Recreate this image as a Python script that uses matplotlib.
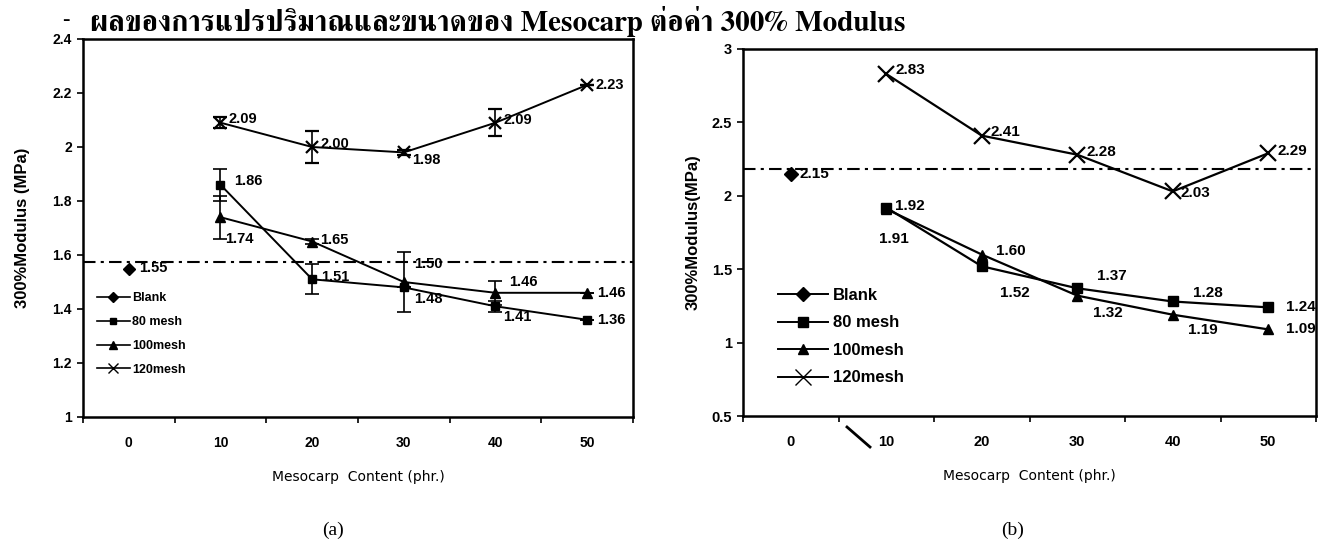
import matplotlib
matplotlib.use('Agg')
import matplotlib.pyplot as plt
from matplotlib import font_manager
from matplotlib.ft2font import FT2Font
from matplotlib.lines import Line2D

# ---- data -------------------------------------------------------------
content = [10, 20, 30, 40, 50]          # phr.
blank_x = [0]

# (a) 300% modulus with standard deviation
a_blank = [1.55]
a_blank_ref = 1.573                     # reference level drawn across the panel
a_80 = [1.86, 1.51, 1.48, 1.41, 1.36]
a_100 = [1.74, 1.65, 1.50, 1.46, 1.46]
a_120 = [2.09, 2.00, 1.98, 2.09, 2.23]
a_80_err = [0.06, 0.055, 0.0, 0.02, 0.0]
a_100_err = [0.08, 0.01, 0.11, 0.045, 0.0]
a_120_err = [0.02, 0.06, 0.01, 0.05, 0.0]

# (b) 300% modulus
b_blank = [2.15]
b_blank_ref = 2.18
b_80 = [1.92, 1.52, 1.37, 1.28, 1.24]
b_100 = [1.91, 1.60, 1.32, 1.19, 1.09]
b_120 = [2.83, 2.41, 2.28, 2.03, 2.29]

xtick_labels = ['0', '10', '20', '30', '40', '50']
legend_names = ['Blank', '80 mesh', '100mesh', '120mesh']


def thai_font():
    # pick an installed family that can draw Thai, serif ones first
    found = []
    for f in font_manager.fontManager.ttflist:
        try:
            if 0x0E1C in FT2Font(f.fname).get_charmap():
                found.append(f.name)
        except Exception:
            pass
    found = sorted(set(found), key=lambda n: (not ('Serif' in n or 'Norasi' in n), n))
    return found[0] if found else 'DejaVu Sans'


narrow = ['Liberation Sans Narrow', 'Liberation Sans', 'DejaVu Sans']
plt.rcParams['font.family'] = narrow
plt.rcParams['font.weight'] = 'bold'

fig = plt.figure(figsize=(13.2, 5.49), dpi=100)
W, H = 1320.0, 549.0


def panel(px0, px1, py0, py1):
    return fig.add_axes([px0 / W, 1 - py1 / H, (px1 - px0) / W, (py1 - py0) / H])


def style(ax, ylim, yticks, ylabels, fs):
    ax.set_xlim(-5, 55)
    ax.set_ylim(*ylim)
    ax.set_xticks([-5, 5, 15, 25, 35, 45, 55])
    ax.set_xticklabels([])
    ax.set_xticks([0, 10, 20, 30, 40, 50], minor=True)
    ax.set_xticklabels(xtick_labels, minor=True, fontsize=fs, fontweight='bold')
    ax.tick_params(axis='x', which='major', direction='out', length=4, width=1.2)
    ax.tick_params(axis='x', which='minor', length=0, pad=14)
    ax.set_yticks(yticks)
    ax.set_yticklabels(ylabels, fontsize=fs, fontweight='bold')
    ax.tick_params(axis='y', direction='out', length=4, width=1.2, pad=4)
    for s in ax.spines.values():
        s.set_linewidth(1.8)


def labels(ax, xs, ys, offs, fs):
    for x, y, (dx, dy) in zip(xs, ys, offs):
        ax.annotate('%.2f' % y, (x, y), xytext=(dx, dy), textcoords='offset pixels',
                    ha='left', va='center', fontsize=fs, fontweight='bold',
                    family=['Liberation Sans', 'DejaVu Sans'])


ref_dash = (0, (6, 2.5, 1.5, 2.5))

# ---- (a) ---------------------------------------------------------------
ax1 = panel(83, 633, 39, 417)
style(ax1, (1, 2.4), [1, 1.2, 1.4, 1.6, 1.8, 2.0, 2.2, 2.4],
      ['1', '1.2', '1.4', '1.6', '1.8', '2', '2.2', '2.4'], 10)
ax1.axhline(a_blank_ref, color='k', lw=1.5, ls=ref_dash)
ax1.plot(blank_x, a_blank, 'kD', ms=6, label=legend_names[0])
eb = dict(color='k', lw=1.4, ecolor='k', elinewidth=1.2, capsize=5, capthick=1.2)
ax1.errorbar(content, a_80, yerr=a_80_err, marker='s', ms=6, label=legend_names[1], **eb)
ax1.errorbar(content, a_100, yerr=a_100_err, marker='^', ms=7, label=legend_names[2], **eb)
ax1.errorbar(content, a_120, yerr=a_120_err, marker='x', ms=9, mew=1.6, label=legend_names[3], **eb)

labels(ax1, blank_x, a_blank, [(10, 0)], 10.5)
labels(ax1, content, a_120, [(8, 4), (8, 3), (8, -8), (8, 3), (8, 0)], 10.5)
labels(ax1, content, a_80, [(14, 4), (9, 2), (10, -12), (8, -11), (10, 0)], 10.5)
labels(ax1, content, a_100, [(5, -22), (8, 2), (10, 18), (14, 11), (10, 0)], 10.5)

h = [Line2D([], [], color='k', lw=1.2, marker=m, ms=s)
     for m, s in zip(['D', 's', '^', 'x'], [5, 5, 6, 7])]
ax1.legend(h, legend_names, loc='upper left', bbox_to_anchor=(0.005, 0.36), frameon=False,
           handlelength=2.6, handletextpad=0.2, labelspacing=0.95,
           prop={'family': narrow, 'weight': 'bold', 'size': 9})
ax1.set_xlabel('Mesocarp  Content (phr.)', fontsize=10, fontweight='medium',
               family=['Liberation Sans Narrow', 'DejaVu Sans'], labelpad=14)
ax1.set_ylabel('300%Modulus (MPa)', fontsize=12, fontweight='bold',
               family=['Liberation Sans', 'DejaVu Sans'], labelpad=16)

# ---- (b) ---------------------------------------------------------------
ax2 = panel(743, 1316, 49, 416)
style(ax2, (0.5, 3.0), [0.5, 1, 1.5, 2, 2.5, 3], ['0.5', '1', '1.5', '2', '2.5', '3'], 10.5)
for lab in ax2.get_xticklabels(minor=True) + ax2.get_yticklabels():
    lab.set_family(['Liberation Sans', 'DejaVu Sans'])
ax2.axhline(b_blank_ref, color='k', lw=1.5, ls=ref_dash)
ax2.plot(blank_x, b_blank, 'kD', ms=7, label=legend_names[0])
ax2.plot(content, b_80, 'k-', marker='s', ms=6.5, lw=1.6, label=legend_names[1])
ax2.plot(content, b_100, 'k-', marker='^', ms=7.5, lw=1.6, label=legend_names[2])
ax2.plot(content, b_120, 'k-', marker='x', ms=12, mew=1.6, lw=1.6, label=legend_names[3])

labels(ax2, blank_x, b_blank, [(9, 0)], 11)
labels(ax2, content, b_120, [(9, 4), (9, 4), (9, 3), (8, -2), (9, 2)], 11)
labels(ax2, content, b_80, [(9, 2), (18, -27), (20, 12), (20, 8), (18, 0)], 11)
labels(ax2, content, b_100, [(-7, -30), (14, 4), (16, -17), (15, -15), (18, 0)], 11)

h2 = [Line2D([], [], color='k', lw=1.4, marker=m, ms=s)
      for m, s in zip(['D', 's', '^', 'x'], [7, 6.5, 7.5, 11])]
ax2.legend(h2, legend_names, loc='upper left', bbox_to_anchor=(0.035, 0.39), frameon=False,
           handlelength=3.0, handletextpad=0.3, labelspacing=0.75,
           prop={'family': ['Liberation Sans', 'DejaVu Sans'], 'weight': 'bold', 'size': 12})
ax2.set_xlabel('Mesocarp  Content (phr.)', fontsize=10, fontweight='medium',
               family=['Liberation Sans Narrow', 'DejaVu Sans'], labelpad=14)
ax2.set_ylabel('300%Modulus(MPa)', fontsize=12, fontweight='bold',
               family=['Liberation Sans', 'DejaVu Sans'], labelpad=8)

# small stroke below the 10 tick of (b)
fig.add_artist(Line2D([847 / W, 870 / W], [1 - 427 / H, 1 - 447 / H], color='k', lw=2))

# ---- heading and panel captions ----------------------------------------
thai = thai_font()
fig.text(62 / W, 1 - 20 / H, '-', fontsize=16, ha='left', va='center',
         family=['Liberation Serif', 'DejaVu Serif'], fontweight='bold')
fig.text(90 / W, 1 - 31 / H, 'ผลของการแปรปริมาณและขนาดของ Mesocarp ต่อค่า 300% Modulus',
         fontsize=21, ha='left', va='baseline', fontweight='bold',
         family=[thai, 'Liberation Serif', 'DejaVu Serif'])
fig.text(333 / W, 1 - 530 / H, '(a)', fontsize=14, ha='center', va='center',
         fontweight='normal', family=['Liberation Serif', 'DejaVu Serif'])
fig.text(1013 / W, 1 - 530 / H, '(b)', fontsize=14, ha='center', va='center',
         fontweight='normal', family=['Liberation Serif', 'DejaVu Serif'])

fig.savefig('out.png', dpi=100)
